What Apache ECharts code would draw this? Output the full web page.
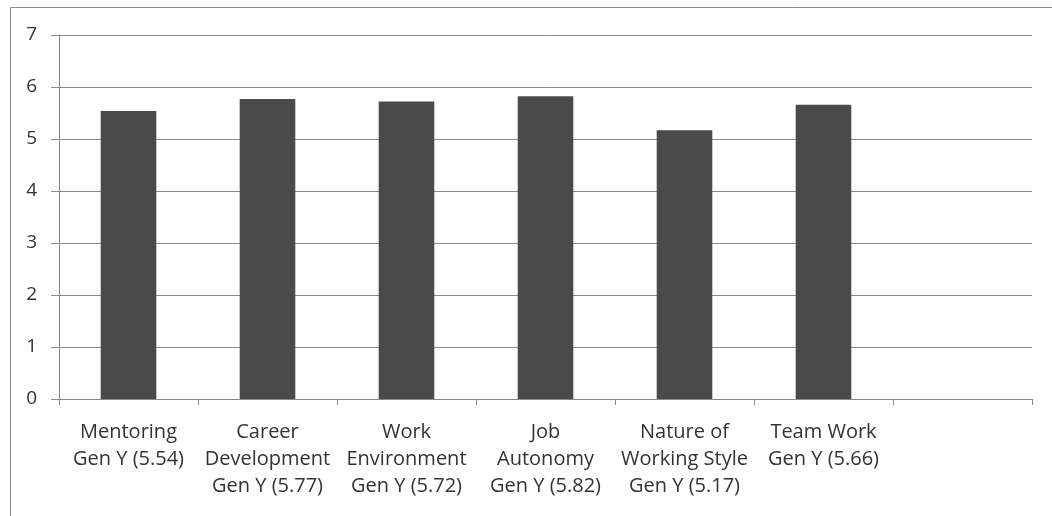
<!DOCTYPE html>
<html>
<head>
<meta charset="utf-8">
<script src="https://cdn.jsdelivr.net/npm/echarts@6/dist/echarts.min.js"></script>
<style>
html,body{margin:0;padding:0;background:#fff;}
#c{width:1052px;height:516px;}
</style>
</head>
<body>
<div id="c"></div>
<script>
const categories = [
  "Mentoring\nGen Y (5.54)",
  "Career\nDevelopment\nGen Y (5.77)",
  "Work\nEnvironment\nGen Y (5.72)",
  "Job\nAutonomy\nGen Y (5.82)",
  "Nature of\nWorking Style\nGen Y (5.17)",
  "Team Work\nGen Y (5.66)",
  ""
];
const values = [5.54, 5.77, 5.72, 5.82, 5.17, 5.66, null];
const yTicks = { min: 0, max: 7, interval: 1 };

const chart = echarts.init(document.getElementById('c'), null, { renderer: 'canvas' });
const lineColor = '#8a8a8a';
const textColor = '#333333';
const fontFamily = '"Open Sans", "Liberation Sans", sans-serif';
chart.setOption({
  animation: false,
  backgroundColor: '#fff',
  graphic: [{
    type: 'rect',
    shape: { x: 10.5, y: 7.5, width: 1200, height: 700 },
    style: { fill: 'none', stroke: lineColor, lineWidth: 1 },
    silent: true
  }],
  grid: { left: 59, right: 20, top: 35, bottom: 117 },
  xAxis: {
    type: 'category',
    data: categories,
    axisLine: { lineStyle: { color: lineColor, width: 1 } },
    axisTick: { show: true, length: 6, lineStyle: { color: lineColor } },
    axisLabel: {
      interval: 0,
      margin: 20,
      color: textColor,
      fontFamily: fontFamily,
      fontSize: 20,
      lineHeight: 27,
      align: 'center'
    }
  },
  yAxis: {
    type: 'value',
    min: yTicks.min,
    max: yTicks.max,
    interval: yTicks.interval,
    axisLine: { show: true, lineStyle: { color: lineColor, width: 1 } },
    axisTick: { show: true, length: 8, lineStyle: { color: lineColor } },
    splitLine: { show: true, lineStyle: { color: lineColor, width: 1 } },
    axisLabel: {
      margin: 22,
      color: textColor,
      fontFamily: fontFamily,
      fontSize: 19
    }
  },
  series: [{
    type: 'bar',
    data: values,
    barCategoryGap: '60%',
    itemStyle: { color: '#4a4a4a' }
  }]
});
</script>
</body>
</html>
